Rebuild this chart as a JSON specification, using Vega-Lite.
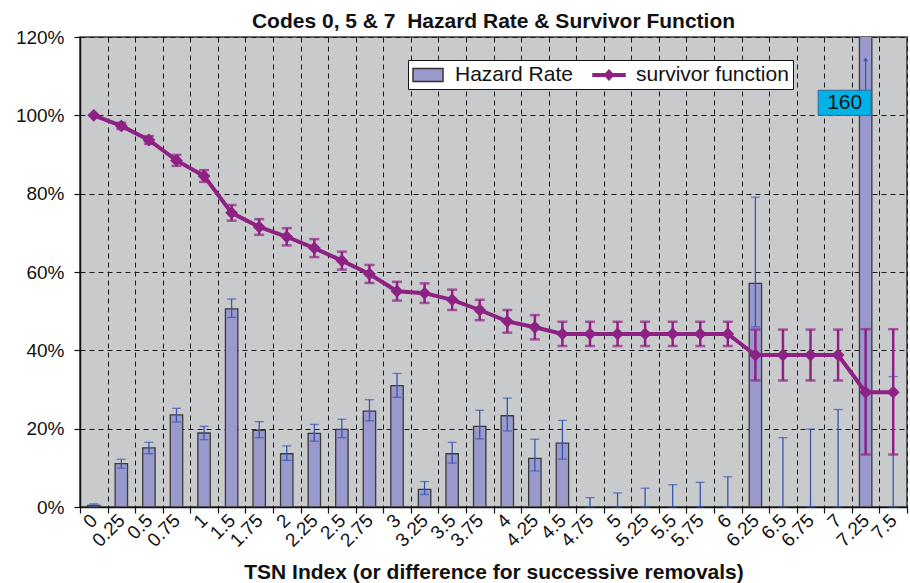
{
  "$schema": "https://vega.github.io/schema/vega-lite/v6.json",
  "width": 827,
  "height": 470,
  "autosize": {"type": "none"},
  "padding": {"left": 80, "top": 37, "right": 3, "bottom": 76},
  "background": "white",
  "config": {
    "font": "Liberation Sans",
    "view": {"fill": "#C9CACC", "stroke": "#3a3a3a", "strokeWidth": 1.5},
    "axis": {
      "gridDash": [5, 4], "gridColor": "#1a1a1a", "gridOpacity": 1, "gridWidth": 1,
      "domainColor": "#111111", "domainWidth": 1.5, "tickColor": "#111111", "tickSize": 6, "tickWidth": 1.2,
      "labelColor": "#111111", "labelFontSize": 19, "labelFont": "Liberation Sans", "titleColor": "#111111"
    }
  },
  "title": {"text": "Codes 0, 5 & 7\u00a0\u00a0Hazard Rate & Survivor Function", "fontSize": 21, "fontWeight": "bold", "anchor": "middle", "offset": -4, "color": "#111111", "font": "Liberation Sans"},
  "data": {"values": [
    {"tsn": "0", "hazard": 0.004, "hz_lo": 0.001, "hz_hi": 0.008, "surv": 1.0, "sv_lo": 1.0, "sv_hi": 1.0},
    {"tsn": "0.25", "hazard": 0.111, "hz_lo": 0.099, "hz_hi": 0.122, "surv": 0.973, "sv_lo": 0.965, "sv_hi": 0.981},
    {"tsn": "0.5", "hazard": 0.151, "hz_lo": 0.136, "hz_hi": 0.165, "surv": 0.937, "sv_lo": 0.927, "sv_hi": 0.947},
    {"tsn": "0.75", "hazard": 0.235, "hz_lo": 0.217, "hz_hi": 0.252, "surv": 0.885, "sv_lo": 0.871, "sv_hi": 0.899},
    {"tsn": "1", "hazard": 0.189, "hz_lo": 0.172, "hz_hi": 0.206, "surv": 0.845, "sv_lo": 0.83, "sv_hi": 0.86},
    {"tsn": "1.5", "hazard": 0.506, "hz_lo": 0.484, "hz_hi": 0.531, "surv": 0.751, "sv_lo": 0.731, "sv_hi": 0.771},
    {"tsn": "1.75", "hazard": 0.196, "hz_lo": 0.177, "hz_hi": 0.218, "surv": 0.715, "sv_lo": 0.695, "sv_hi": 0.735},
    {"tsn": "2", "hazard": 0.136, "hz_lo": 0.119, "hz_hi": 0.156, "surv": 0.69, "sv_lo": 0.668, "sv_hi": 0.712},
    {"tsn": "2.25", "hazard": 0.188, "hz_lo": 0.168, "hz_hi": 0.211, "surv": 0.661, "sv_lo": 0.638, "sv_hi": 0.684},
    {"tsn": "2.5", "hazard": 0.198, "hz_lo": 0.177, "hz_hi": 0.224, "surv": 0.629, "sv_lo": 0.606, "sv_hi": 0.652},
    {"tsn": "2.75", "hazard": 0.245, "hz_lo": 0.22, "hz_hi": 0.274, "surv": 0.595, "sv_lo": 0.572, "sv_hi": 0.618},
    {"tsn": "3", "hazard": 0.31, "hz_lo": 0.28, "hz_hi": 0.341, "surv": 0.551, "sv_lo": 0.527, "sv_hi": 0.575},
    {"tsn": "3.25", "hazard": 0.045, "hz_lo": 0.032, "hz_hi": 0.065, "surv": 0.546, "sv_lo": 0.521, "sv_hi": 0.571},
    {"tsn": "3.5", "hazard": 0.136, "hz_lo": 0.112, "hz_hi": 0.165, "surv": 0.529, "sv_lo": 0.503, "sv_hi": 0.555},
    {"tsn": "3.75", "hazard": 0.206, "hz_lo": 0.174, "hz_hi": 0.247, "surv": 0.503, "sv_lo": 0.477, "sv_hi": 0.529},
    {"tsn": "4", "hazard": 0.233, "hz_lo": 0.194, "hz_hi": 0.278, "surv": 0.474, "sv_lo": 0.445, "sv_hi": 0.503},
    {"tsn": "4.25", "hazard": 0.124, "hz_lo": 0.092, "hz_hi": 0.173, "surv": 0.459, "sv_lo": 0.428, "sv_hi": 0.49},
    {"tsn": "4.5", "hazard": 0.163, "hz_lo": 0.122, "hz_hi": 0.221, "surv": 0.442, "sv_lo": 0.411, "sv_hi": 0.473},
    {"tsn": "4.75", "hazard": 0, "hz_lo": 0, "hz_hi": 0.024, "surv": 0.442, "sv_lo": 0.411, "sv_hi": 0.473},
    {"tsn": "5", "hazard": 0, "hz_lo": 0, "hz_hi": 0.036, "surv": 0.442, "sv_lo": 0.411, "sv_hi": 0.473},
    {"tsn": "5.25", "hazard": 0, "hz_lo": 0, "hz_hi": 0.048, "surv": 0.442, "sv_lo": 0.411, "sv_hi": 0.473},
    {"tsn": "5.5", "hazard": 0, "hz_lo": 0, "hz_hi": 0.057, "surv": 0.442, "sv_lo": 0.411, "sv_hi": 0.473},
    {"tsn": "5.75", "hazard": 0, "hz_lo": 0, "hz_hi": 0.063, "surv": 0.442, "sv_lo": 0.411, "sv_hi": 0.473},
    {"tsn": "6", "hazard": 0, "hz_lo": 0, "hz_hi": 0.077, "surv": 0.442, "sv_lo": 0.411, "sv_hi": 0.473},
    {"tsn": "6.25", "hazard": 0.571, "hz_lo": 0.46, "hz_hi": 0.791, "surv": 0.388, "sv_lo": 0.323, "sv_hi": 0.453},
    {"tsn": "6.5", "hazard": 0, "hz_lo": 0, "hz_hi": 0.177, "surv": 0.388, "sv_lo": 0.323, "sv_hi": 0.453},
    {"tsn": "6.75", "hazard": 0, "hz_lo": 0, "hz_hi": 0.199, "surv": 0.388, "sv_lo": 0.323, "sv_hi": 0.453},
    {"tsn": "7", "hazard": 0, "hz_lo": 0, "hz_hi": 0.249, "surv": 0.388, "sv_lo": 0.323, "sv_hi": 0.453},
    {"tsn": "7.25", "hazard": 1.6, "hz_lo": null, "hz_hi": null, "surv": 0.293, "sv_lo": 0.134, "sv_hi": 0.454, "note": "160"},
    {"tsn": "7.5", "hazard": 0, "hz_lo": 0, "hz_hi": 0.333, "surv": 0.293, "sv_lo": 0.134, "sv_hi": 0.454}
  ]},
  "encoding": {
    "x": {
      "field": "tsn", "type": "ordinal", "sort": null,
      "scale": {"domain": ["0","0.25","0.5","0.75","1","1.5","1.75","2","2.25","2.5","2.75","3","3.25","3.5","3.75","4","4.25","4.5","4.75","5","5.25","5.5","5.75","6","6.25","6.5","6.75","7","7.25","7.5"], "paddingInner": 0, "paddingOuter": 0},
      "axis": {
        "title": "TSN Index (or difference for successive removals)", "titleFontSize": 21, "titleFontWeight": "bold",
        "titleY": 71, "titleBaseline": "alphabetic", "titleFont": "Liberation Sans",
        "labelAngle": -45, "labelAlign": "right", "labelBaseline": "middle", "labelPadding": 4,
        "tickBand": "extent", "grid": true, "domain": true
      }
    }
  },
  "layer": [
    {
      "transform": [{"filter": "datum.hazard > 0"}],
      "mark": {"type": "bar", "clip": true, "width": {"band": 0.45}, "fill": "#9999CC", "stroke": "#3b3b3b", "strokeWidth": 1.3},
      "encoding": {
        "y": {"field": "hazard", "type": "quantitative", "scale": {"domain": [0, 1.2], "nice": false, "zero": true},
          "axis": {"title": null, "values": [0, 0.2, 0.4, 0.6, 0.8, 1.0, 1.2], "format": ".0%", "labelFlush": false, "labelPadding": 10, "grid": true, "domain": true}}
      }
    },
    {
      "transform": [{"filter": "isValid(datum.hz_hi)"}],
      "mark": {"type": "rule", "color": "#3556B0", "strokeWidth": 1.3},
      "encoding": {"y": {"field": "hz_lo", "type": "quantitative", "axis": {"title": null, "values": [0, 0.2, 0.4, 0.6, 0.8, 1.0, 1.2], "format": ".0%", "labelFlush": false, "labelPadding": 10, "grid": true, "domain": true}}, "y2": {"field": "hz_hi"}}
    },
    {
      "transform": [{"filter": "isValid(datum.hz_hi)"}],
      "mark": {"type": "tick", "color": "#3556B0", "thickness": 1.3, "size": 9},
      "encoding": {"y": {"field": "hz_hi", "type": "quantitative", "axis": {"title": null, "values": [0, 0.2, 0.4, 0.6, 0.8, 1.0, 1.2], "format": ".0%", "labelFlush": false, "labelPadding": 10, "grid": true, "domain": true}}}
    },
    {
      "transform": [{"filter": "isValid(datum.hz_lo)"}],
      "mark": {"type": "tick", "color": "#3556B0", "thickness": 1.3, "size": 9},
      "encoding": {"y": {"field": "hz_lo", "type": "quantitative", "axis": {"title": null, "values": [0, 0.2, 0.4, 0.6, 0.8, 1.0, 1.2], "format": ".0%", "labelFlush": false, "labelPadding": 10, "grid": true, "domain": true}}}
    },
    {
      "mark": {"type": "line", "color": "#8E2184", "strokeWidth": 4},
      "encoding": {"y": {"field": "surv", "type": "quantitative", "axis": {"title": null, "values": [0, 0.2, 0.4, 0.6, 0.8, 1.0, 1.2], "format": ".0%", "labelFlush": false, "labelPadding": 10, "grid": true, "domain": true}}}
    },
    {
      "transform": [{"filter": "datum.sv_hi > datum.sv_lo"}],
      "mark": {"type": "rule", "color": "#8E2184", "strokeWidth": 2.5},
      "encoding": {"y": {"field": "sv_lo", "type": "quantitative", "axis": {"title": null, "values": [0, 0.2, 0.4, 0.6, 0.8, 1.0, 1.2], "format": ".0%", "labelFlush": false, "labelPadding": 10, "grid": true, "domain": true}}, "y2": {"field": "sv_hi"}}
    },
    {
      "transform": [{"filter": "datum.sv_hi > datum.sv_lo"}],
      "mark": {"type": "tick", "color": "#8E2184", "thickness": 2.5, "size": 10},
      "encoding": {"y": {"field": "sv_hi", "type": "quantitative", "axis": {"title": null, "values": [0, 0.2, 0.4, 0.6, 0.8, 1.0, 1.2], "format": ".0%", "labelFlush": false, "labelPadding": 10, "grid": true, "domain": true}}}
    },
    {
      "transform": [{"filter": "datum.sv_hi > datum.sv_lo"}],
      "mark": {"type": "tick", "color": "#8E2184", "thickness": 2.5, "size": 10},
      "encoding": {"y": {"field": "sv_lo", "type": "quantitative", "axis": {"title": null, "values": [0, 0.2, 0.4, 0.6, 0.8, 1.0, 1.2], "format": ".0%", "labelFlush": false, "labelPadding": 10, "grid": true, "domain": true}}}
    },
    {
      "mark": {"type": "point", "shape": "diamond", "filled": true, "color": "#8E2184", "size": 165, "opacity": 1},
      "encoding": {"y": {"field": "surv", "type": "quantitative", "axis": {"title": null, "values": [0, 0.2, 0.4, 0.6, 0.8, 1.0, 1.2], "format": ".0%", "labelFlush": false, "labelPadding": 10, "grid": true, "domain": true}}}
    },
    {
      "transform": [{"filter": "datum.tsn === '0'"}],
      "mark": {"type": "point", "filled": true, "opacity": 0, "strokeWidth": 1.5},
      "encoding": {
        "y": {"field": "surv", "type": "quantitative", "axis": {"title": null, "values": [0, 0.2, 0.4, 0.6, 0.8, 1.0, 1.2], "format": ".0%", "labelFlush": false, "labelPadding": 10, "grid": true, "domain": true}},
        "shape": {"datum": "survivor function", "scale": {"domain": ["Hazard Rate", "survivor function"], "range": ["M-1.5,-0.65H1.5V0.65H-1.5Z", "M-1.6,-0.12H1.6V0.12H-1.6ZM0,-0.5L0.45,0L0,0.5L-0.45,0Z"]},
          "legend": {"title": null, "orient": "none", "legendX": 328, "legendY": 23, "direction": "horizontal", "fillColor": "white", "strokeColor": "#111111", "padding": 4, "labelFontSize": 21, "labelFont": "Liberation Sans", "labelColor": "#111111", "symbolSize": 400, "symbolOffset": 5, "labelOffset": 16, "columnPadding": 17, "symbolOpacity": 1, "symbolStrokeWidth": 1.5}},
        "color": {"datum": "survivor function", "scale": {"domain": ["Hazard Rate", "survivor function"], "range": ["#9999CC", "#8E2184"]},
          "legend": {"title": null, "orient": "none", "legendX": 328, "legendY": 23, "direction": "horizontal", "fillColor": "white", "strokeColor": "#111111", "padding": 4, "labelFontSize": 21, "labelFont": "Liberation Sans", "labelColor": "#111111", "symbolSize": 400, "symbolOffset": 5, "labelOffset": 16, "columnPadding": 17, "symbolOpacity": 1, "symbolStrokeWidth": 1.5}},
        "stroke": {"datum": "survivor function", "scale": {"domain": ["Hazard Rate", "survivor function"], "range": ["#333333", "#8E2184"]},
          "legend": {"title": null, "orient": "none", "legendX": 328, "legendY": 23, "direction": "horizontal", "fillColor": "white", "strokeColor": "#111111", "padding": 4, "labelFontSize": 21, "labelFont": "Liberation Sans", "labelColor": "#111111", "symbolSize": 400, "symbolOffset": 5, "labelOffset": 16, "columnPadding": 17, "symbolOpacity": 1, "symbolStrokeWidth": 1.5}}
      }
    },
    {
      "transform": [{"filter": "isValid(datum.note)"}],
      "mark": {"type": "rule", "color": "#3556B0", "strokeWidth": 1.2},
      "encoding": {"y": {"datum": 1.064, "type": "quantitative", "axis": {"title": null, "values": [0, 0.2, 0.4, 0.6, 0.8, 1.0, 1.2], "format": ".0%", "labelFlush": false, "labelPadding": 10, "grid": true, "domain": true}}, "y2": {"datum": 1.14}}
    },
    {
      "transform": [{"filter": "isValid(datum.note)"}],
      "mark": {"type": "point", "shape": "triangle-up", "filled": true, "color": "#3556B0", "size": 22, "opacity": 1},
      "encoding": {"y": {"datum": 1.143, "type": "quantitative", "axis": {"title": null, "values": [0, 0.2, 0.4, 0.6, 0.8, 1.0, 1.2], "format": ".0%", "labelFlush": false, "labelPadding": 10, "grid": true, "domain": true}}}
    },
    {
      "transform": [{"filter": "isValid(datum.note)"}],
      "mark": {"type": "bar", "width": 53, "xOffset": -21, "fill": "#00B2E6", "stroke": "#2a6e9e", "strokeWidth": 1},
      "encoding": {"y": {"datum": 1.0, "type": "quantitative", "axis": {"title": null, "values": [0, 0.2, 0.4, 0.6, 0.8, 1.0, 1.2], "format": ".0%", "labelFlush": false, "labelPadding": 10, "grid": true, "domain": true}}, "y2": {"datum": 1.064}}
    },
    {
      "transform": [{"filter": "isValid(datum.note)"}],
      "mark": {"type": "text", "xOffset": -21, "fontSize": 21, "font": "Liberation Sans", "color": "#111111", "align": "center", "baseline": "middle"},
      "encoding": {"y": {"datum": 1.032, "type": "quantitative", "axis": {"title": null, "values": [0, 0.2, 0.4, 0.6, 0.8, 1.0, 1.2], "format": ".0%", "labelFlush": false, "labelPadding": 10, "grid": true, "domain": true}}, "text": {"field": "note"}}
    }
  ]
}
